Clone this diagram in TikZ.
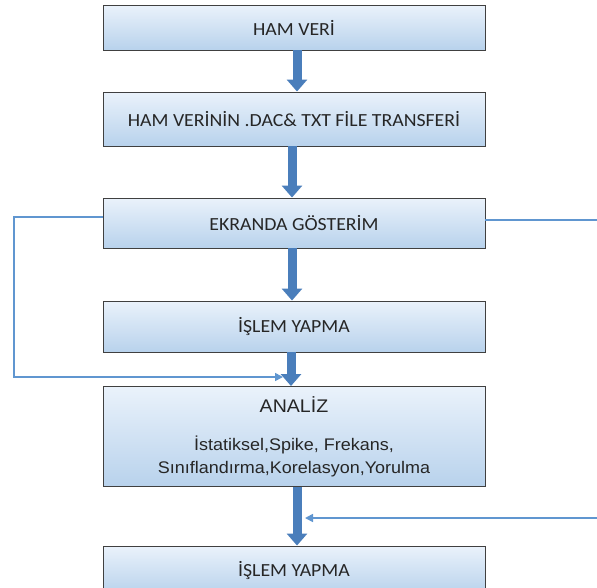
\documentclass[tikz,border=0pt]{standalone}
\usepackage{fontspec}
\setmainfont{Carlito}[FakeStretch=1.07]
\newfontfamily\arialf{Liberation Sans}[FakeStretch=1.07]
\usetikzlibrary{arrows.meta}
\definecolor{boxtop}{RGB}{234,242,251}
\definecolor{boxbot}{RGB}{184,210,236}
\definecolor{boxline}{RGB}{64,64,64}
\definecolor{arrblue}{RGB}{74,126,187}
\definecolor{thinblue}{RGB}{96,150,208}
\definecolor{txt}{RGB}{38,38,38}
\tikzset{
  stepbox/.style={draw=boxline, line width=0.9pt, top color=boxtop, bottom color=boxbot,
    minimum width=382pt, inner sep=0pt, text=txt, font=\fontsize{18.5}{20}\selectfont},
  bigarrow/.style={draw=arrblue, line width=9pt, -{Triangle[width=20pt,length=12pt]}},
  thinline/.style={draw=thinblue, line width=1.6pt},
  thinarrow/.style={thinline, -{Triangle[width=8pt,length=8pt]}}
}
\begin{document}
\begin{tikzpicture}[x=1pt,y=-1pt]
\useasboundingbox (0,0) rectangle (597,587);
\clip (0,0) rectangle (597,587);
\fill[white] (0,0) rectangle (597,587);

\node[stepbox, minimum height=45pt] (b1) at (294,27.5) {HAM VERİ};
\node[stepbox, minimum height=54pt] (b2) at (294,119) {HAM VERİNİN .DAC\& TXT FİLE TRANSFERİ};
\node[stepbox, minimum height=50pt] (b3) at (294,223) {EKRANDA GÖSTERİM};
\node[stepbox, minimum height=51pt] (b4) at (294,326.5) {İŞLEM YAPMA};
\node[stepbox, minimum height=100pt, align=center, font=\arialf\fontsize{16.8}{23}\selectfont] (b5) at (294,436.5)
  {{\fontsize{18.3}{23}\selectfont ANALİZ}\\[15pt]İstatiksel,Spike, Frekans,\\Sınıflandırma,Korelasyon,Yorulma};
\node[stepbox, minimum height=48pt] (b6) at (294,570) {İŞLEM YAPMA};

\draw[bigarrow] ([xshift=3pt]b1.south) -- ([xshift=3pt]b2.north);
\draw[bigarrow] ([xshift=-2pt]b2.south) -- ([xshift=-2pt]b3.north);
\draw[bigarrow] ([xshift=-2pt]b3.south) -- ([xshift=-2pt]b4.north);
\draw[bigarrow] ([xshift=-3pt]b4.south) -- ([xshift=-3pt]b5.north);
\draw[bigarrow] ([xshift=3pt]b5.south) -- ([xshift=3pt]b6.north);

\coordinate (l1) at (14,217);
\coordinate (l2) at (14,377);
\coordinate (lend) at (283,377);
\draw[thinarrow] ([yshift=6pt]b3.west) -- (l1) -- (l2) -- (lend);

\coordinate (r1) at (600,220);
\coordinate (r2) at (600,518);
\coordinate (rend) at (305,518);
\draw[thinline] ([yshift=3pt]b3.east) -- (r1);
\draw[thinarrow] (r2) -- (rend);
\end{tikzpicture}
\end{document}
